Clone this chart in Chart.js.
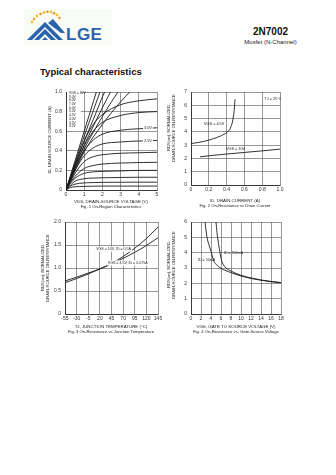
<!DOCTYPE html>
<html lang="en">
<head>
<meta charset="UTF-8">
<title>2N7002 - Typical characteristics</title>
<script src="https://cdn.jsdelivr.net/npm/chart.js"></script>
<style>
  body { margin: 0; background: #fff; font-family: "Liberation Sans", Arial, sans-serif; color: #111; }
  .page { position: relative; width: 336px; height: 475px; overflow: hidden; }
  .part { position: absolute; left: 220px; width: 101px; top: 26px; text-align: center; font-weight: bold; font-size: 10px; }
  .sub { position: absolute; left: 220px; width: 101px; top: 39px; text-align: center; font-size: 6px; color: #222; }
  .heading { position: absolute; left: 40px; top: 66px; font-weight: bold; font-size: 9.5px; }
  .logo { position: absolute; left: 20px; top: 6px; }
  canvas { position: absolute; }
</style>
</head>
<body>
<div class="page">
  <svg class="logo" width="100" height="40" viewBox="0 0 100 40">
    <rect x="4" y="3" width="88" height="36" fill="#f9fbf6"/>
    <g fill="#f0c232">
      <circle cx="12" cy="16" r="1.4"/><circle cx="17" cy="10" r="1.4"/><circle cx="24" cy="6.5" r="1.4"/>
      <circle cx="31" cy="6" r="1.4"/><circle cx="37" cy="9" r="1.4"/>
    </g>
    <g fill="#e88a2e">
      <circle cx="14" cy="13" r="1.2"/><circle cx="20.5" cy="8" r="1.2"/><circle cx="27.5" cy="5.8" r="1.2"/>
      <circle cx="34" cy="7.2" r="1.2"/><circle cx="39.5" cy="12" r="1.2"/>
    </g>
    <g fill="#2a63ad">
      <polygon points="7,34 25,16 43,34 38,34 25,21 12,34"/>
      <polygon points="14,34 25,23 36,34 31,34 25,28 19,34"/>
      <polygon points="22,34 25,31 28,34"/>
      <polygon points="28,17 33,13 45,27 41,27"/>
    </g>
    <text x="46" y="34" font-family="Liberation Sans, Arial, sans-serif" font-size="17" font-weight="bold" fill="#2a63ad" letter-spacing="0.5">LGE</text>
  </svg>
  <div class="part">2N7002</div>
  <div class="sub">Mosfet (N-Channel)</div>
  <div class="heading">Typical characteristics</div>

  <canvas id="fig1" width="150" height="130" style="left:20px;top:85px"></canvas>
  <canvas id="fig2" width="170" height="130" style="left:160px;top:85px"></canvas>
  <canvas id="fig3" width="150" height="130" style="left:20px;top:215px"></canvas>
  <canvas id="fig4" width="170" height="130" style="left:160px;top:215px"></canvas>
</div>

<script>
// Fig. 1 - drain current vs drain-source voltage, one curve per gate voltage
const fig1Vds = [0, 0.25, 0.5, 1, 1.5, 2, 3, 4, 5];
const fig1Saturating = [
  [0, 0.13, 0.26, 0.5, 0.67, 0.77, 0.87, 0.91, 0.93],
  [0, 0.12, 0.24, 0.45, 0.6, 0.69, 0.76, 0.79, 0.8],
  [0, 0.11, 0.22, 0.4, 0.51, 0.57, 0.61, 0.625, 0.635],
  [0, 0.1, 0.2, 0.35, 0.43, 0.47, 0.49, 0.5, 0.505],
  [0, 0.09, 0.17, 0.29, 0.34, 0.36, 0.375, 0.38, 0.385],
  [0, 0.08, 0.14, 0.22, 0.25, 0.265, 0.275, 0.28, 0.283],
  [0, 0.07, 0.12, 0.17, 0.185, 0.19, 0.195, 0.2, 0.2],
  [0, 0.05, 0.09, 0.115, 0.122, 0.125, 0.128, 0.13, 0.13],
  [0, 0.04, 0.06, 0.072, 0.076, 0.078, 0.079, 0.08, 0.08],
  [0, 0.025, 0.033, 0.037, 0.039, 0.04, 0.04, 0.04, 0.04]
];
const fig1SteepVds = [0, 0.5, 1, 1.5, 2, 2.5, 3, 3.5];
const fig1Steep = [
  [0, 0.3, 0.6, 0.9, 1.2],
  [0, 0.28, 0.55, 0.81, 1.07],
  [0, 0.26, 0.5, 0.72, 0.95, 1.15],
  [0, 0.24, 0.46, 0.65, 0.84, 1.02],
  [0, 0.22, 0.42, 0.59, 0.75, 0.9, 1.04],
  [0, 0.2, 0.39, 0.54, 0.67, 0.79, 0.9, 1.0]
];
const fig1GateLabels = ['VGS = 10V', '9.0V', '8.0V', '7.0V', '6.0V', '5.0V', '4.5V', '4.0V', '3.5V', '3.2V'];

// Fig. 2 - on-resistance vs drain current
const fig2IdLow = [0, 0.1, 0.2, 0.3, 0.38, 0.42, 0.45, 0.47, 0.485, 0.495];
const fig2RdsLow = [3.12, 3.22, 3.38, 3.6, 3.85, 4.05, 4.4, 4.9, 5.6, 6.45];
const fig2IdHigh = [0.1, 0.2, 0.4, 0.6, 0.8, 1.0];
const fig2RdsHigh = [2.12, 2.2, 2.33, 2.45, 2.57, 2.7];

// Fig. 3 - normalized on-resistance vs junction temperature
const fig3Temp = [-55, -30, -5, 20, 45, 70, 95, 120, 145];
const fig3RdsHigh = [0.68, 0.77, 0.87, 0.98, 1.1, 1.25, 1.43, 1.64, 1.89];
const fig3RdsLow = [0.72, 0.8, 0.89, 0.98, 1.09, 1.21, 1.34, 1.49, 1.66];

// Fig. 4 - on-resistance vs gate-source voltage
const fig4VgsA = [2.8, 3.2, 3.6, 4, 4.5, 5, 6, 8, 10, 12, 14, 16, 18];
const fig4RdsA = [6.0, 5.0, 4.5, 4.1, 3.5, 3.25, 2.98, 2.7, 2.48, 2.32, 2.2, 2.11, 2.04];
const fig4VgsB = [5.0, 5.2, 5.5, 5.8, 6.1, 6.5, 7, 8, 10, 12, 14, 16, 18];
const fig4RdsB = [6.0, 5.3, 4.6, 4.0, 3.5, 3.2, 3.0, 2.8, 2.52, 2.35, 2.22, 2.12, 2.05];

const FONT = '"Liberation Sans", Arial, sans-serif';

function pts(xs, ys) {
  return ys.map((y, i) => ({ x: xs[i], y: y }));
}

// free text on the canvas: axis titles, curve tags, the gate-voltage list
const notesPlugin = {
  id: 'notes',
  afterDraw(chart, args, opts) {
    const ctx = chart.ctx;
    (opts.boxes || []).forEach(b => {
      ctx.save();
      ctx.fillStyle = '#fff';
      ctx.fillRect(b.px, b.py, b.w, b.h);
      ctx.restore();
    });
    (opts.items || []).forEach(n => {
      let x = n.px, y = n.py;
      if (n.vx !== undefined) {
        x = chart.scales.x.getPixelForValue(n.vx);
        y = chart.scales.y.getPixelForValue(n.vy);
      }
      ctx.save();
      ctx.font = (n.size || 4.4) + 'px ' + FONT;
      ctx.textAlign = n.align || 'center';
      ctx.textBaseline = 'middle';
      ctx.translate(x, y);
      if (n.rot) ctx.rotate(n.rot * Math.PI / 180);
      if (n.bg) {
        const w = ctx.measureText(n.text).width;
        const x0 = n.align === 'left' ? -1 : (n.align === 'right' ? -w - 1 : -w / 2 - 1);
        ctx.fillStyle = '#fff';
        ctx.fillRect(x0, -2.6, w + 2, 5.2);
      }
      ctx.fillStyle = '#222';
      ctx.fillText(n.text, 0, 0);
      ctx.restore();
    });
  }
};

function oneDecimal(v) {
  return v === 0 ? '0' : v.toFixed(1);
}

function plot(id, cfg) {
  const tickFont = { family: FONT, size: 5 };
  return new Chart(document.getElementById(id), {
    type: 'scatter',
    data: {
      datasets: cfg.series.map(s => ({
        data: s,
        showLine: true,
        borderColor: '#1b1b1b',
        borderWidth: 0.9,
        pointRadius: 0,
        cubicInterpolationMode: 'monotone'
      }))
    },
    options: {
      responsive: false,
      animation: false,
      layout: { padding: cfg.pad },
      plugins: {
        legend: { display: false },
        tooltip: { enabled: false },
        notes: { items: cfg.notes, boxes: cfg.boxes || [] }
      },
      scales: {
        x: {
          type: 'linear', min: cfg.x[0], max: cfg.x[1],
          ticks: { stepSize: cfg.x[2], padding: 2, font: tickFont, color: '#333', autoSkip: false, maxRotation: 0, callback: cfg.xfmt || (v => v) },
          grid: { color: '#5e5e5e', lineWidth: 0.65, drawTicks: false },
          border: { color: '#222', width: 0.8 },
          afterFit: s => { s.height = cfg.xH; }
        },
        y: {
          type: 'linear', min: cfg.y[0], max: cfg.y[1],
          ticks: { stepSize: cfg.y[2], padding: 4, font: tickFont, color: '#333', autoSkip: false, callback: cfg.yfmt || (v => v) },
          grid: { color: '#5e5e5e', lineWidth: 0.65, drawTicks: false },
          border: { color: '#222', width: 0.8 },
          afterFit: s => { s.width = cfg.yW; }
        }
      }
    },
    plugins: [notesPlugin]
  });
}

// Fig. 1
const fig1Series = fig1Saturating.map(ys => pts(fig1Vds, ys))
  .concat(fig1Steep.map(ys => pts(fig1SteepVds, ys)));
const fig1Notes = fig1GateLabels.map((t, i) => ({ text: t, px: 49, py: 8 + i * 3.7, align: 'left', size: 3.3 }));
fig1Notes.push(
  { text: '3.0V', vx: 4.5, vy: 0.63, bg: true, size: 3.8 },
  { text: '2.5V', vx: 4.5, vy: 0.5, bg: true, size: 3.8 },
  { text: 'ID, DRAIN-SOURCE CURRENT (A)', px: 30, py: 55, rot: -90, size: 4.2 },
  { text: 'VDS, DRAIN-SOURCE VOLTAGE (V)', px: 91, py: 117, size: 4.4 },
  { text: 'Fig. 1 On-Region Characteristics', px: 91, py: 121.5, size: 4.2 }
);
plot('fig1', {
  series: fig1Series,
  x: [0, 5, 1], y: [0, 1, 0.2], yfmt: oneDecimal,
  pad: { left: 0, right: 13, top: 5, bottom: 0 }, yW: 46, xH: 25,
  boxes: [{ px: 47, py: 5.5, w: 14, h: 38 }],
  notes: fig1Notes
});

// Fig. 2
plot('fig2', {
  series: [pts(fig2IdLow, fig2RdsLow), pts(fig2IdHigh, fig2RdsHigh)],
  x: [0, 1, 0.2], y: [0, 7, 1], xfmt: oneDecimal,
  pad: { left: 0, right: 50, top: 6, bottom: 0 }, yW: 31, xH: 30,
  notes: [
    { text: 'TJ = 25°C', vx: 0.92, vy: 6.5, size: 3.8 },
    { text: 'VGS = 4.5V', vx: 0.26, vy: 4.6, size: 3.8 },
    { text: 'VGS = 10V', vx: 0.5, vy: 2.75, size: 3.8 },
    { text: 'RDS(on), NORMALIZED', px: 8.5, py: 43, rot: -90, size: 4.2 },
    { text: 'DRAIN-SOURCE ON-RESISTANCE', px: 13.5, py: 43, rot: -90, size: 4.2 },
    { text: 'ID, DRAIN CURRENT (A)', px: 75, py: 116, size: 4.4 },
    { text: 'Fig. 2 On-Resistance vs Drain Current', px: 75, py: 120.5, size: 4.2 }
  ]
});

// Fig. 3
plot('fig3', {
  series: [pts(fig3Temp, fig3RdsHigh), pts(fig3Temp, fig3RdsLow)],
  x: [-55, 145, 25], y: [0, 2, 0.5], yfmt: oneDecimal,
  pad: { left: 0, right: 12, top: 7, bottom: 0 }, yW: 45, xH: 31,
  notes: [
    { text: 'VGS = 10V, ID = 0.5A', vx: 12, vy: 1.41, align: 'left', bg: true, size: 3.6 },
    { text: 'VGS = 4.5V, ID = 0.075A', vx: 37, vy: 1.11, align: 'left', bg: true, size: 3.6 },
    { text: 'RDS(on), NORMALIZED', px: 23, py: 53, rot: -90, size: 4.2 },
    { text: 'DRAIN-SOURCE ON-RESISTANCE', px: 28, py: 53, rot: -90, size: 4.2 },
    { text: 'TJ, JUNCTION TEMPERATURE (°C)', px: 91, py: 112, size: 4.4 },
    { text: 'Fig. 3 On-Resistance vs Junction Temperature', px: 91, py: 117, size: 4.2 }
  ]
});

// Fig. 4
plot('fig4', {
  series: [pts(fig4VgsA, fig4RdsA), pts(fig4VgsB, fig4RdsB)],
  x: [0, 18, 2], y: [0, 6, 1],
  pad: { left: 0, right: 49, top: 5, bottom: 0 }, yW: 31, xH: 31,
  notes: [
    { text: 'ID = 50mA', vx: 1.4, vy: 3.5, align: 'left', size: 3.6 },
    { text: 'ID = 500mA', vx: 6.6, vy: 3.95, align: 'left', size: 3.6 },
    { text: 'RDS(on), NORMALIZED', px: 8.5, py: 50, rot: -90, size: 4.2 },
    { text: 'DRAIN-SOURCE ON-RESISTANCE', px: 13.5, py: 50, rot: -90, size: 4.2 },
    { text: 'VGS, GATE TO SOURCE VOLTAGE (V)', px: 76, py: 112, size: 4.4 },
    { text: 'Fig. 4 On-Resistance vs. Gate-Source Voltage', px: 76, py: 117, size: 4.2 }
  ]
});
</script>
</body>
</html>
